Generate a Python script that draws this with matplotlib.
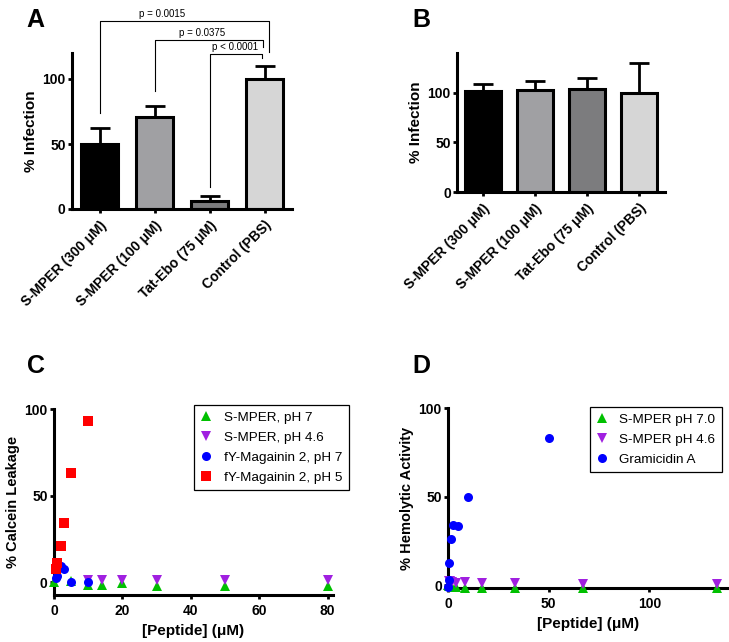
import matplotlib
matplotlib.use("Agg")
import matplotlib.pyplot as plt
import numpy as np

plt.rcParams['font.family'] = ['Liberation Sans', 'DejaVu Sans']

# ---------------- data ----------------
bar_labels = ["S-MPER (300 \u03bcM)", "S-MPER (100 \u03bcM)", "Tat-Ebo (75 \u03bcM)", "Control (PBS)"]
bar_colors = ["#000000", "#a0a0a3", "#7c7c7e", "#d6d6d6"]

a_values = [50, 71, 6, 100]
a_errors = [12, 8, 4, 10]

b_values = [102, 103, 104, 100]
b_errors = [7, 9, 11, 30]

p_texts = ["p = 0.0015", "p = 0.0375", "p < 0.0001"]

# Panel C
c_smper7_x = [0, 5, 10, 14, 20, 30, 50, 80]
c_smper7_y = [0, 0.5, -2, -1.5, -0.8, -2.5, -2.5, -2.5]
c_smper46_x = [10, 14, 20, 30, 50, 80]
c_smper46_y = [1, 1, 1, 1, 1, 1]
c_mag7_x = [0.5, 1, 2, 3, 5, 10]
c_mag7_y = [2.5, 3.5, 9, 7.5, 0.3, 0.3]
c_mag5_x = [0.5, 1, 2, 3, 5, 10]
c_mag5_y = [7.5, 11, 21, 34, 63, 93]

# Panel D
d_smper7_x = [0, 0.5, 1, 2.1, 4.2, 8.4, 16.7, 33.4, 66.8, 133.6]
d_smper7_y = [0, -0.5, -0.5, -1, -1, -1.5, -1.5, -1.5, -1.5, -1.5]
d_smper46_x = [0.5, 1, 2.1, 4.2, 8.4, 16.7, 33.4, 66.8, 133.6]
d_smper46_y = [2.5, 2.5, 2, 1.5, 2, 1.5, 1.5, 1, 1]
d_gram_x = [0.1, 0.3, 0.6, 1.25, 2.5, 5, 10, 50]
d_gram_y = [-1, 3, 12.7, 26, 34, 33.5, 50, 83]

GREEN = "#00c000"
PURPLE = "#a020e0"
BLUE = "#0000ff"
RED = "#ff0000"

W, H = 729, 642
fig = plt.figure(figsize=(W / 100, H / 100), dpi=100)


def px_axes(left, top, right, bottom):
    return fig.add_axes([left / W, 1 - bottom / H, (right - left) / W, (bottom - top) / H])


def style_axes(ax):
    for s in ["top", "right"]:
        ax.spines[s].set_visible(False)
    for s in ["left", "bottom"]:
        ax.spines[s].set_linewidth(2.2)
    ax.tick_params(direction="out", width=2, length=3, labelsize=10)
    ax.tick_params(axis="y", pad=1.5)
    for lab in ax.get_yticklabels() + ax.get_xticklabels():
        lab.set_fontweight("bold")


def bar_panel(ax, values, errors, ymax):
    x = np.arange(len(values))
    ax.bar(x, values, width=0.68, color=bar_colors, edgecolor="black", linewidth=2.2, zorder=2)
    ax.errorbar(x, values, yerr=[np.zeros(len(values)), errors], fmt="none", ecolor="black",
                elinewidth=2, capsize=7, capthick=2, zorder=1)
    ax.set_xlim(-0.5, 3.5)
    ax.set_ylim(0, ymax)
    ax.set_yticks([0, 50, 100])
    ax.set_xticks(x)
    ax.set_xticklabels(bar_labels, rotation=45, ha="right", rotation_mode="anchor")
    ax.set_ylabel("% Infection", fontsize=11, fontweight="bold", labelpad=3)
    style_axes(ax)
    for lab in ax.get_xticklabels():
        lab.set_fontsize(10)


# ---------- Panel A ----------
axA = px_axes(72, 53, 292, 209)
bar_panel(axA, a_values, a_errors, 120)
brackets = [
    (0.0, 3.08, 145, 74, 121, 1.14, 146.5),
    (1.0, 2.98, 130, 91, 125, 1.87, 131.5),
    (2.0, 2.96, 119, 17, 116, 2.46, 120.5),
]
for (x0, x1, yb, yl, yr, tx, ty), t in zip(brackets, p_texts):
    axA.plot([x0, x0, x1, x1], [yl, yb, yb, yr], color="black", lw=0.8, clip_on=False)
    axA.text(tx, ty, t, ha="center", va="bottom", fontsize=7)

# ---------- Panel B ----------
axB = px_axes(457, 53, 665, 192)
bar_panel(axB, b_values, b_errors, 140)


# ---------- scatter panels ----------
def scatter_panel(ax, series, xlim, ylim, xticks, ylabel, legend_anchor):
    for xs, ys, m, c, lab in series:
        ax.plot(xs, ys, ls="none", marker=m, color=c, ms=7 if m != "o" else 6.5,
                markeredgewidth=0, label=lab, clip_on=False, zorder=3)
    ax.set_xlim(*xlim)
    ax.set_ylim(*ylim)
    ax.set_xticks(xticks)
    ax.set_yticks([0, 50, 100])
    ax.set_xlabel("[Peptide] (\u03bcM)", fontsize=11, fontweight="bold")
    ax.set_ylabel(ylabel, fontsize=10.5, fontweight="bold", labelpad=3)
    style_axes(ax)
    leg = ax.legend(loc="upper right", bbox_to_anchor=legend_anchor, borderaxespad=0,
                    fancybox=False, framealpha=1, edgecolor="black", fontsize=9.7,
                    handlelength=0.8, handletextpad=0.9, labelspacing=0.55, borderpad=0.5)
    leg.get_frame().set_linewidth(0.9)


axC = px_axes(54, 409, 333, 595)
scatter_panel(axC, [
    (c_smper7_x, c_smper7_y, "^", GREEN, "S-MPER, pH 7"),
    (c_smper46_x, c_smper46_y, "v", PURPLE, "S-MPER, pH 4.6"),
    (c_mag7_x, c_mag7_y, "o", BLUE, "fY-Magainin 2, pH 7"),
    (c_mag5_x, c_mag5_y, "s", RED, "fY-Magainin 2, pH 5"),
], (0, 81.6), (-7.5, 100), [0, 20, 40, 60, 80], "% Calcein Leakage", (1.057, 1.022))

axD = px_axes(448, 408, 728, 588)
scatter_panel(axD, [
    (d_smper7_x, d_smper7_y, "^", GREEN, "S-MPER pH 7.0"),
    (d_smper46_x, d_smper46_y, "v", PURPLE, "S-MPER pH 4.6"),
    (d_gram_x, d_gram_y, "o", BLUE, "Gramicidin A"),
], (0, 139), (-1.5, 100), [0, 50, 100], "% Hemolytic Activity", (0.979, 1.007))

# ---------- panel letters ----------
for letter, x, y in [("A", 26, 8), ("B", 412, 8), ("C", 27, 354), ("D", 412, 354)]:
    fig.text(x / W, 1 - y / H, letter, fontsize=18, fontweight="bold", va="top", ha="left")

fig.savefig("out.png", dpi=100)
